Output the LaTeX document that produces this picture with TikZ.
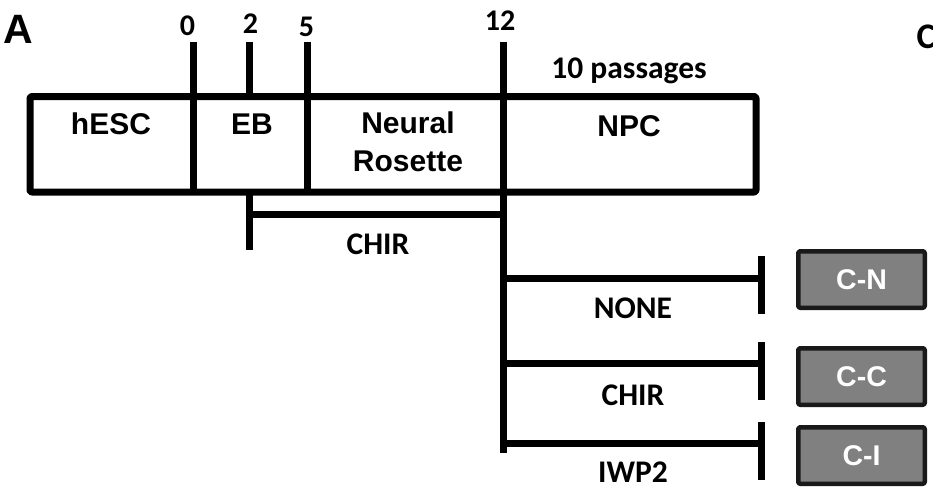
\documentclass[tikz,border=0pt]{standalone}
\usepackage{fontspec}
\setmainfont{Carlito}
\newfontfamily\arialfont{Liberation Sans}
\begin{document}
\begin{tikzpicture}[x=1pt, y=-1pt, line width=7pt, line join=round,
	lab/.style={font=\fontsize{31.5}{34}\selectfont\bfseries, anchor=base},
	num/.style={font=\fontsize{30}{32}\selectfont\bfseries, anchor=base},
	stage/.style={font=\arialfont\fontsize{30}{38}\selectfont\bfseries, align=center},
	cond/.style={draw=black!90, line width=4.5pt, rounded corners=2pt, fill=black!50, minimum width=126.5pt, minimum height=56.5pt, text=white, inner sep=0pt,
		font=\arialfont\fontsize{28.5}{33}\selectfont\bfseries}]
	\useasboundingbox (0,0) rectangle (933,498);
	\path
	(30,96.5) coordinate (TL)
	(756,192) coordinate (BR)
	(503,214) coordinate (R)
	(249.5,214) coordinate (L)
	(249.5,250) coordinate (Lb);
	% time line ticks
	\foreach \x/\n/\e in {193/0/192, 249.5/2/96.5, 307/5/192, 503/12/453}
	\path (\x,42) coordinate (t\n) (\x,\e) coordinate (b\n);
	\draw[rounded corners=2pt] (TL) rectangle (BR);
	\foreach \n in {0,2,5,12}
	\draw (t\n)--(b\n);
	\draw (L|-BR)--(Lb) (L)--(R);
	% day numbers
	\foreach \n/\x/\y in {0/187.5/35, 2/250.5/33, 5/306.5/36, 12/500/30}
	\node[num] (d\n) at (\x,\y) {\n};
	% stages
	\node[stage, anchor=base] (hesc) at (111,134) {hESC};
	\node[stage, anchor=base] (eb) at (252,134) {EB};
	\node[stage] (nr) at (408,142) {Neural\\Rosette};
	\node[stage, anchor=base] (npc) at (629,136) {NPC};
	\node[lab] (pass) at (629,78) {10 passages};
	\node[lab] at (378,254) (chir) {CHIR};
	% branches
	\foreach \y/\a/\b/\c/\t/\ty/\by in {278/256/314/N/NONE/318/279.5, 363/342/400/C/CHIR/405/376.5, 443/422/480/I/IWP2/482/455.5}{
		\path (503,\y) coordinate (s\c) (761,\y) coordinate (e\c)
		(761,\a) coordinate (e\c a) (761,\b) coordinate (e\c b);
		\draw (s\c)--(e\c) (e\c a)--(e\c b);
		\node[lab] (l\c) at (633,\ty) {\t};
		\node[cond] (box\c) at (861.5,\by) {C-\c};
	}
	% panel letters
	\node[font=\arialfont\fontsize{41}{44}\selectfont\bfseries, anchor=base west, inner sep=0pt] (pA) at (0,43) {A};
	\node[font=\fontsize{36}{40}\selectfont\bfseries, anchor=base west, inner sep=0pt] (pC) at (913,48) {C};
\end{tikzpicture}
\end{document}
